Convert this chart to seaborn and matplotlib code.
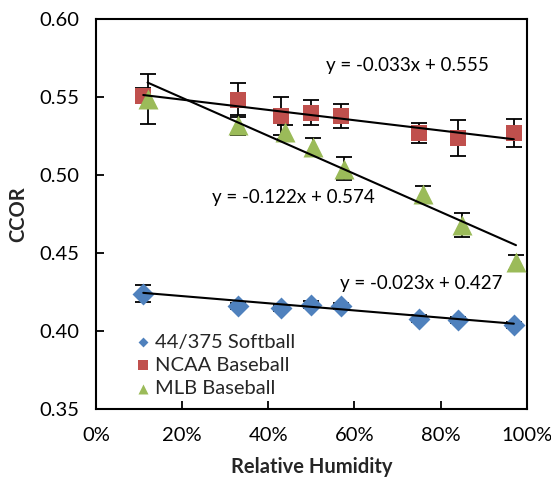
import numpy as np
import pandas as pd
import matplotlib
matplotlib.use("Agg")
import matplotlib.pyplot as plt
import seaborn as sns

# ─────────────────────────────────────────
# DATA
# ─────────────────────────────────────────
seriesNames = ["44/375 Softball", "NCAA Baseball", "MLB Baseball"]

softballRH  = [0.11, 0.33, 0.43, 0.50, 0.57, 0.75, 0.84, 0.97]
softballCOR = [0.424, 0.416, 0.415, 0.417, 0.416, 0.408, 0.407, 0.404]
softballErr = [0.0055, 0.002, 0.002, 0.002, 0.002, 0.002, 0.002, 0.002]

ncaaRH  = [0.11, 0.33, 0.43, 0.50, 0.57, 0.75, 0.84, 0.97]
ncaaCOR = [0.551, 0.548, 0.538, 0.540, 0.538, 0.527, 0.524, 0.527]
ncaaErr = [0.005, 0.011, 0.012, 0.008, 0.0077, 0.0064, 0.0115, 0.0087]

mlbRH  = [0.12, 0.33, 0.44, 0.505, 0.575, 0.76, 0.85, 0.975]
mlbCOR = [0.549, 0.532, 0.5275, 0.518, 0.504, 0.488, 0.468, 0.444]
mlbErr = [0.016, 0.0065, 0.0045, 0.006, 0.0074, 0.005, 0.0077, 0.005]

# trendline coefficients (slope, intercept) as printed on the chart
slopes     = [-0.023, -0.033, -0.122]
intercepts = [0.427, 0.555, 0.574]
eqLabels   = ["y = -0.023x + 0.427", "y = -0.033x + 0.555", "y = -0.122x + 0.574"]
eqPos      = [(0.756, 0.4303), (0.724, 0.5704), (0.459, 0.4856)]

colors  = {"44/375 Softball": "#4F81BD", "NCAA Baseball": "#C0504D", "MLB Baseball": "#9BBB59"}
markers = {"44/375 Softball": "D", "NCAA Baseball": "s", "MLB Baseball": "^"}
sizes   = {"44/375 Softball": 125, "NCAA Baseball": 117, "MLB Baseball": 207}
legendScale = {"44/375 Softball": 0.45, "NCAA Baseball": 0.6, "MLB Baseball": 0.5}

# long format table for seaborn
df = pd.concat([
    pd.DataFrame({"rh": softballRH, "cor": softballCOR, "err": softballErr, "series": seriesNames[0]}),
    pd.DataFrame({"rh": ncaaRH, "cor": ncaaCOR, "err": ncaaErr, "series": seriesNames[1]}),
    pd.DataFrame({"rh": mlbRH, "cor": mlbCOR, "err": mlbErr, "series": seriesNames[2]}),
], ignore_index=True)

# ─────────────────────────────────────────
# STYLE
# ─────────────────────────────────────────
sns.set_theme(style="ticks")
plt.rcParams["font.family"] = ["Lato", "DejaVu Sans"]

fig = plt.figure(figsize=(5.51, 4.80), dpi=100)
ax = fig.add_axes([0.174, 0.148, 0.782, 0.812])

# error bars first so markers sit on top
for name in seriesNames:
    sub = df[df["series"] == name]
    ax.errorbar(sub["rh"], sub["cor"], yerr=sub["err"], fmt="none",
                ecolor="black", elinewidth=1.3, capsize=6, capthick=1.3, zorder=2)

for name in seriesNames:
    sub = df[df["series"] == name]
    sns.scatterplot(data=sub, x="rh", y="cor", ax=ax, color=colors[name],
                    marker=markers[name], s=sizes[name], linewidth=0,
                    label=name, zorder=3)

# linear trendlines from the printed equations
for name, m, b in zip(seriesNames, slopes, intercepts):
    sub = df[df["series"] == name]
    xs = np.array([sub["rh"].min(), sub["rh"].max()])
    sns.lineplot(x=xs, y=m * xs + b, ax=ax, color="black", linewidth=1.5,
                 legend=False, zorder=4)

for label, (tx, ty) in zip(eqLabels, eqPos):
    ax.text(tx, ty, label, ha="center", va="center", fontsize=13.5, color="black")

# ─────────────────────────────────────────
# AXES
# ─────────────────────────────────────────
ax.set_xlim(0, 1)
ax.set_ylim(0.35, 0.60)
ax.set_xticks(np.arange(0, 1.01, 0.2))
ax.set_xticklabels([f"{int(round(v * 100))}%" for v in np.arange(0, 1.01, 0.2)])
ax.set_yticks(np.arange(0.35, 0.601, 0.05))
ax.set_yticklabels([f"{v:.2f}" for v in np.arange(0.35, 0.601, 0.05)])
ax.tick_params(direction="in", length=6, width=1.3, labelsize=14.5, colors="black")
ax.tick_params(axis="x", pad=13)
ax.tick_params(axis="y", pad=12)
for spine in ax.spines.values():
    spine.set_visible(True)
    spine.set_linewidth(1.5)
    spine.set_color("black")

ax.set_xlabel("Relative Humidity", fontsize=14.5, fontweight="bold", labelpad=9)
ax.set_ylabel("CCOR", fontsize=14.5, fontweight="bold", labelpad=8)

leg = ax.legend(loc="lower left", bbox_to_anchor=(0.06, 0.0), frameon=False,
                fontsize=14.5, handletextpad=0.15, handlelength=0.9,
                labelspacing=0.3, borderaxespad=0.2)
for handle, name in zip(leg.legend_handles, seriesNames):
    handle.set_sizes([sizes[name] * legendScale[name] ** 2])

fig.savefig("out.png", dpi=100)
